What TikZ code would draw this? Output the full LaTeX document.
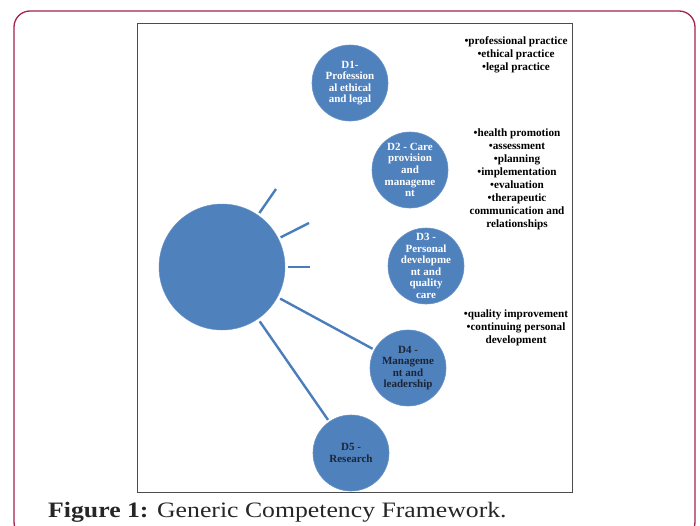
\documentclass[tikz,border=0pt]{standalone}
\usepackage{fontspec}
\setmainfont{Liberation Serif}
\definecolor{cblue}{HTML}{4F81BD}
\definecolor{cline}{HTML}{4A7EBB}
\definecolor{cedge}{HTML}{A4224B}
\definecolor{cnavy}{HTML}{1B2536}
\tikzset{
  dom/.style={circle, fill=cblue, draw=cblue!85!white, line width=0.6pt, minimum size=76pt, inner sep=-12pt, align=center, font=\fontsize{11}{11.6}\selectfont\bfseries},
  spoke/.style={draw=cline, line width=2.4pt},
  blist/.style={align=center, font=\fontsize{11.2}{13}\selectfont\bfseries, text=black, inner sep=0pt}
}
\begin{document}
\begin{tikzpicture}[x=1pt,y=-1pt]
\useasboundingbox (0,0) rectangle (700,525);
\begin{scope}
\clip (0,0) rectangle (700,525);
\draw[cedge, line width=1.3pt, rounded corners=16pt] (14,11) rectangle (695,538);
\end{scope}
\draw[gray!60!black, line width=0.9pt] (137,23) rectangle (572,492);

\node[circle, fill=cblue, draw=cblue!85!white, minimum size=126pt, inner sep=0pt] (big) at (222,267) {};

\node[dom, text=white] (d1) at (350,83) {D1-\\Profession\\al ethical\\and legal};
\node[dom, text=white] (d2) at (410,170) {D2 - Care\\provision\\and\\manageme\\nt};
\node[dom, text=white] (d3) at (426,266) {D3 -\\Personal\\developme\\nt and\\quality\\care};
\node[dom, text=cnavy] (d4) at (408,368) {D4 -\\Manageme\\nt and\\leadership};
\node[dom, text=cnavy] (d5) at (351,453) {D5 -\\Research};

\coordinate (s1) at (276,189);
\coordinate (s2) at (309,223);
\coordinate (s3) at (310,267);

\draw[spoke, shorten <=2.5pt] (big) -- (s1);
\draw[spoke, shorten <=2.5pt] (big) -- (s2);
\draw[spoke, shorten <=2.5pt] (big) -- (s3);
\draw[spoke, shorten <=3pt, shorten >=2pt] (big) -- (d4);
\draw[spoke, shorten <=3pt, shorten >=2pt] (big) -- (d5);

\node[blist] (l1) at (516,55) {•professional practice\\•ethical practice\\•legal practice};
\node[blist] (l2) at (517,179) {•health promotion\\•assessment\\•planning\\•implementation\\•evaluation\\•therapeutic\\communication and\\relationships};
\node[blist] (l3) at (516,328) {•quality improvement\\•continuing personal\\development};

\node[anchor=base west, inner sep=0pt, xscale=1.17, text=black!85, font=\fontsize{22}{24}\selectfont] (cap) at (48,517) {\textbf{Figure 1:} Generic Competency Framework.};
\end{tikzpicture}
\end{document}
